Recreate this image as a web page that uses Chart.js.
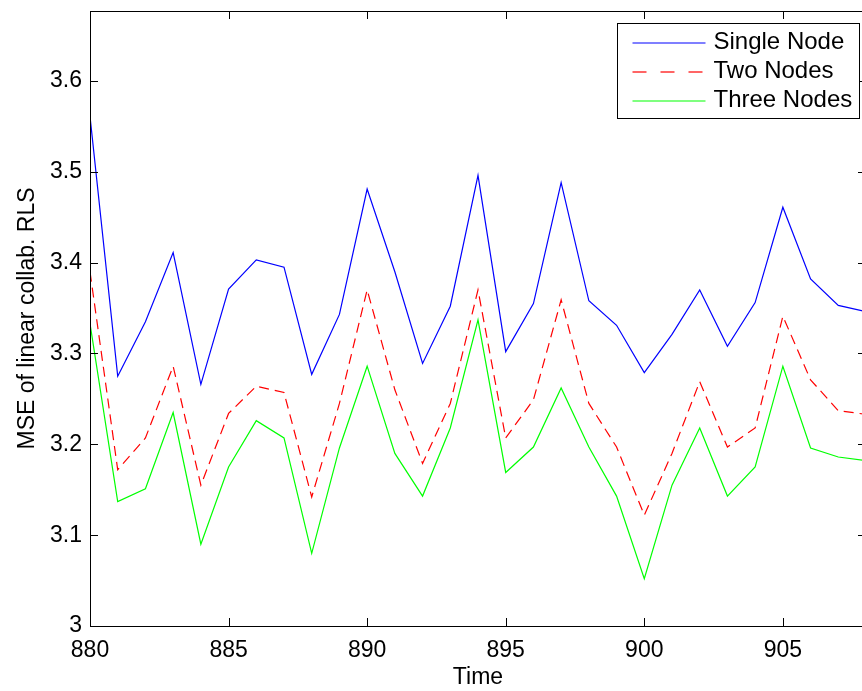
<!DOCTYPE html>
<html>
<head>
<meta charset="utf-8">
<script src="https://cdn.jsdelivr.net/npm/chart.js@4.4.1/dist/chart.umd.min.js"></script>
<style>
  html, body { margin: 0; padding: 0; background: #fff; overflow: hidden; }
  #wrap { position: relative; width: 872px; height: 691px; }
</style>
</head>
<body>
<div id="wrap"><canvas id="chart"></canvas></div>
<script>
// data
const time = [880, 881, 882, 883, 884, 885, 886, 887, 888, 889, 890, 891, 892, 893, 894,
  895, 896, 897, 898, 899, 900, 901, 902, 903, 904, 905, 906, 907, 908];
const singleNode = [3.561, 3.275, 3.335, 3.411, 3.266, 3.371, 3.403, 3.395, 3.277, 3.343,
  3.481, 3.390, 3.289, 3.352, 3.496, 3.302, 3.355, 3.488, 3.358, 3.331,
  3.279, 3.321, 3.370, 3.308, 3.356, 3.461, 3.382, 3.353, 3.346];
const twoNodes = [3.390, 3.172, 3.207, 3.286, 3.155, 3.234, 3.264, 3.257, 3.142, 3.245,
  3.370, 3.260, 3.179, 3.245, 3.370, 3.207, 3.249, 3.359, 3.245, 3.197,
  3.122, 3.190, 3.269, 3.197, 3.218, 3.341, 3.271, 3.237, 3.233];
const threeNodes = [3.333, 3.137, 3.151, 3.235, 3.090, 3.175, 3.226, 3.207, 3.080, 3.196,
  3.286, 3.190, 3.143, 3.218, 3.337, 3.169, 3.197, 3.262, 3.197, 3.143,
  3.052, 3.155, 3.218, 3.143, 3.175, 3.286, 3.196, 3.186, 3.182];
const seriesLabels = ["Single Node", "Two Nodes", "Three Nodes"];
const xTicks = [880, 885, 890, 895, 900, 905];
const yTicks = [3, 3.1, 3.2, 3.3, 3.4, 3.5, 3.6];

const FONT = "'Liberation Sans', Arial, Helvetica, sans-serif";
const FONT_SIZE = 23;
const LEGEND_FONT_SIZE = 24;

const toPoints = (vals) => vals.map((v, i) => ({ x: time[i], y: v }));

// ── frame, inward ticks on all four sides, legend box (MATLAB look) ──
const framePlugin = {
  id: "matlabFrame",
  afterDatasetsDraw(chart) {
    const { ctx, chartArea: a, scales } = chart;
    ctx.save();
    ctx.strokeStyle = "#000";
    ctx.lineWidth = 1;
    ctx.strokeRect(Math.round(a.left) + 0.5, Math.round(a.top) + 0.5,
      Math.round(a.right - a.left), Math.round(a.bottom - a.top));

    const tl = 8;
    ctx.beginPath();
    xTicks.forEach((t) => {
      const x = Math.round(scales.x.getPixelForValue(t)) + 0.5;
      ctx.moveTo(x, a.bottom); ctx.lineTo(x, a.bottom - tl);
      ctx.moveTo(x, a.top); ctx.lineTo(x, a.top + tl);
    });
    yTicks.forEach((v) => {
      const y = Math.round(scales.y.getPixelForValue(v)) + 0.5;
      ctx.moveTo(a.left, y); ctx.lineTo(a.left + tl, y);
      ctx.moveTo(a.right, y); ctx.lineTo(a.right - tl, y);
    });
    ctx.stroke();

    // legend in the top right corner
    ctx.font = `${LEGEND_FONT_SIZE}px ${FONT}`;
    const ds = chart.data.datasets;
    const textW = Math.max(...ds.map((d) => ctx.measureText(d.label).width));
    const lineLen = 73, gap = 8, padL = 15, padR = 7, rowH = 29;
    const w = Math.round(padL + lineLen + gap + textW + padR);
    const h = rowH * ds.length + 8;
    const bx = Math.round(a.right - 7 - w) + 0.5;
    const by = Math.round(a.top + 12) + 0.5;
    ctx.fillStyle = "#fff";
    ctx.fillRect(bx, by, w, h);
    ctx.strokeStyle = "#000";
    ctx.lineWidth = 1;
    ctx.strokeRect(bx, by, w, h);
    ds.forEach((d, i) => {
      const cy = by + 19 + i * rowH;
      ctx.strokeStyle = d.borderColor;
      ctx.lineWidth = 1.2;
      ctx.setLineDash(d.borderDash ? [14, 14] : []);
      ctx.beginPath();
      ctx.moveTo(bx + padL, Math.round(cy));
      ctx.lineTo(bx + padL + lineLen, Math.round(cy));
      ctx.stroke();
      ctx.setLineDash([]);
      ctx.fillStyle = "#000";
      ctx.textAlign = "left";
      ctx.textBaseline = "middle";
      ctx.fillText(d.label, bx + padL + lineLen + gap, cy);
    });
    ctx.restore();
  },
};

new Chart(document.getElementById("chart"), {
  type: "line",
  data: {
    datasets: [
      { label: seriesLabels[0], data: toPoints(singleNode), borderColor: "#0000ff" },
      { label: seriesLabels[1], data: toPoints(twoNodes), borderColor: "#ff0000", borderDash: [10, 6] },
      { label: seriesLabels[2], data: toPoints(threeNodes), borderColor: "#00ff00" },
    ].map((d) => ({ ...d, borderWidth: 1.2, pointRadius: 0, tension: 0, fill: false })),
  },
  options: {
    responsive: true,
    maintainAspectRatio: false,
    animation: false,
    layout: { padding: { top: 11, right: 6, bottom: 0, left: 0 } },
    plugins: { legend: { display: false }, tooltip: { enabled: false } },
    scales: {
      x: {
        type: "linear",
        min: 880,
        max: 908,
        afterFit: (s) => { s.height = 65; s.paddingLeft = 0; s.paddingRight = 0; },
        afterBuildTicks: (s) => { s.ticks = xTicks.map((v) => ({ value: v })); },
        grid: { display: false, drawTicks: false },
        border: { display: false },
        ticks: { color: "#000", font: { family: FONT, size: FONT_SIZE }, padding: 11, maxRotation: 0 },
        title: { display: true, text: "Time", color: "#000", font: { family: FONT, size: FONT_SIZE }, padding: { bottom: 0 } },
      },
      y: {
        type: "linear",
        min: 3,
        max: 3.677,
        afterFit: (s) => { s.width = 90; s.paddingTop = 0; s.paddingBottom = 0; },
        afterBuildTicks: (s) => { s.ticks = yTicks.map((v) => ({ value: v })); },
        grid: { display: false, drawTicks: false },
        border: { display: false },
        ticks: {
          color: "#000",
          font: { family: FONT, size: FONT_SIZE },
          padding: 8,
          callback: (v) => String(Number(v.toFixed(1))),
        },
        title: { display: true, text: "MSE of linear collab. RLS", color: "#000", font: { family: FONT, size: FONT_SIZE }, padding: { top: 14 } },
      },
    },
  },
  plugins: [framePlugin],
});
</script>
</body>
</html>
